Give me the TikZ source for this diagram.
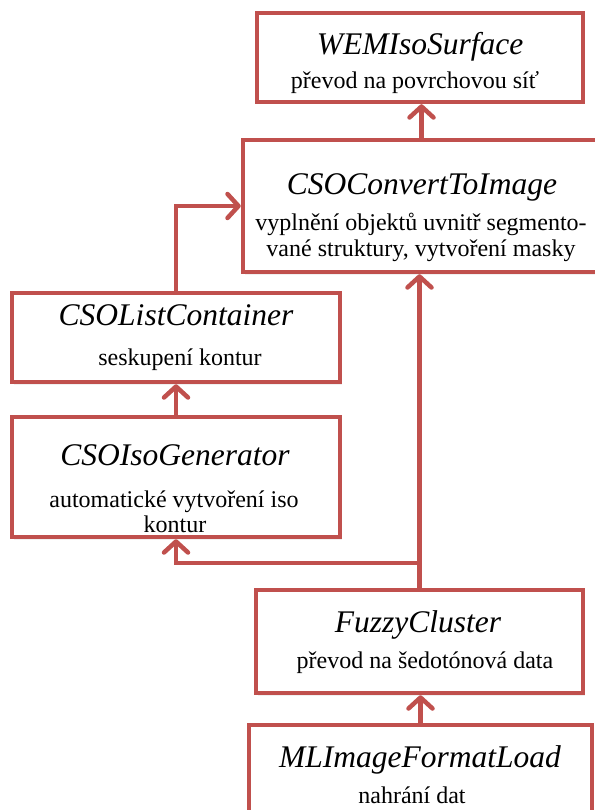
\documentclass[tikz,border=0pt]{standalone}
\usepackage{fontspec}
\setmainfont{Liberation Serif}
\usetikzlibrary{arrows.meta,shadows}
\definecolor{boxred}{HTML}{C0504D}
\tikzset{
  modbox/.style={draw=boxred, line width=4.5pt, fill=white, rectangle, inner sep=0pt,
    drop shadow={opacity=0.12, shadow xshift=1.5pt, shadow yshift=-2.5pt}},
  conn/.style={draw=boxred, line width=4.5pt,
    -{Straight Barb[length=11pt, width=24pt, line cap=round, line join=round]}},
  ttl/.style={anchor=base, inner sep=0pt, font=\fontsize{31.5}{32}\selectfont\itshape},
  sub/.style={anchor=base, inner sep=0pt, font=\fontsize{24}{25}\selectfont},
}
\begin{document}
\begin{tikzpicture}[x=1pt, y=-1pt]
\useasboundingbox (0,0) rectangle (594,810);

% module boxes
\node[modbox, minimum width=326pt, minimum height=89pt]  (wemi)  at (420,57.5) {};
\node[modbox, minimum width=357pt, minimum height=132pt] (conv)  at (421.5,206) {};
\node[modbox, minimum width=328pt, minimum height=89pt]  (list)  at (176,337.5) {};
\node[modbox, minimum width=328pt, minimum height=120pt] (iso)   at (176,477) {};
\node[modbox, minimum width=327pt, minimum height=103pt] (fuzzy) at (419.5,641.5) {};
\node[modbox, minimum width=343pt, minimum height=105pt] (ml)    at (420.5,777.5) {};

% labels
\node[ttl] (wemiT) at (420,55) {WEMIsoSurface};
\node[sub] (wemiS) at (415,89) {převod na povrchovou síť};

\node[ttl] (convT) at (422,195) {CSOConvertToImage};
\node[sub] (convS1) at (421,230) {vyplnění objektů uvnitř segmento-};
\node[sub] (convS2) at (421,256) {vané struktury, vytvoření masky};

\node[ttl] (listT) at (176,325) {CSOListContainer};
\node[sub] (listS) at (180,365) {seskupení kontur};

\node[ttl] (isoT) at (175,465) {CSOIsoGenerator};
\node[sub] (isoS1) at (174,507) {automatické vytvoření iso};
\node[sub] (isoS2) at (175,532) {kontur};

\node[ttl] (fuzzyT) at (418,632) {FuzzyCluster};
\node[sub] (fuzzyS) at (425,668) {převod na šedotónová data};

\node[ttl] (mlT) at (420,767) {MLImageFormatLoad};
\node[sub] (mlS) at (412,803) {nahrání dat};

% connectors
\coordinate (branch) at (420,563);
\draw[conn] (conv.north) -- (conv.north |- wemi.south);
\draw[conn] (list.north) |- (conv.west);
\draw[conn] (iso.north) -- (list.south);
\draw[conn] (fuzzy.north) -- (fuzzy.north |- conv.south);
\draw[conn] (branch) -| (iso.south);
\draw[conn] (ml.north) -- (ml.north |- fuzzy.south);
\end{tikzpicture}
\end{document}
